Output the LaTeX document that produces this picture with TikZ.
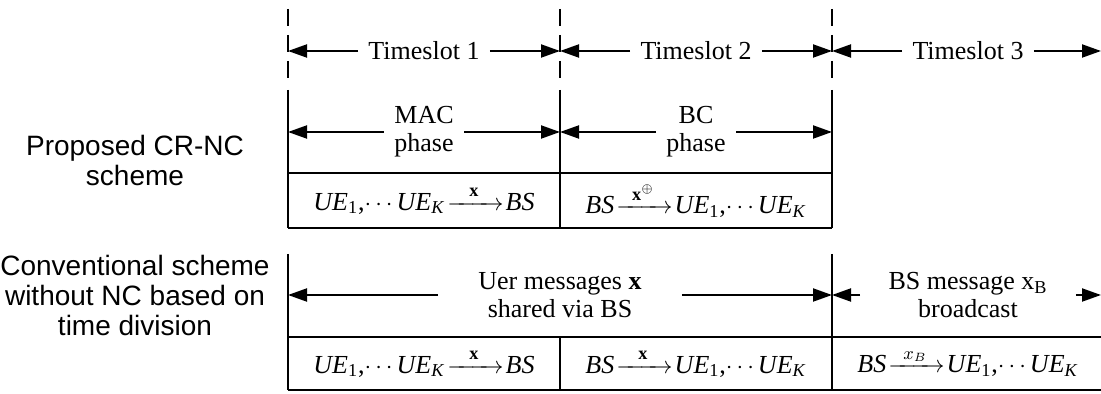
\documentclass[tikz,border=0pt]{standalone}
\usepackage{fontspec}
\usepackage{amsmath}
\setmainfont{Liberation Serif}
\newfontfamily\lblfont{Liberation Sans}
\usetikzlibrary{arrows.meta}
\newcommand{\myues}{\textit{UE}\textsubscript{1},$\cdots$\textit{UE}\textsubscript{\textit{K}}}
\newcommand{\mybs}{\textit{BS}}
\newcommand{\myarr}[1]{\kern1pt$\xrightarrow{\makebox[21pt]{$\scriptstyle #1$}}$\kern1pt}
\begin{document}
\begin{tikzpicture}[x=0.5pt,y=-0.5pt,
  frame/.style={line width=1pt},
  dashline/.style={line width=1pt, dash pattern=on 8.5pt off 4.5pt},
  dimarrow/.style={line width=1pt,-{Triangle[length=9.5pt,width=6.5pt]}},
  txt/.style={font=\fontsize{13}{14}\selectfont, align=center, inner ysep=0pt},
  lbl/.style={font=\lblfont\fontsize{14}{15}\selectfont, align=center},
  ]
\useasboundingbox (0,0) rectangle (1101,394);
% vertical guide lines (top)
\foreach \x/\n in {288/a,560/b,832/c} {
  \coordinate (d\n1) at (\x,9);
  \coordinate (d\n2) at (\x,82);
  \coordinate (s\n1) at (\x,90);
  \coordinate (s\n2) at (\x,228);
  \draw[dashline] (d\n1) -- (d\n2);
  \draw[frame] (s\n1) -- (s\n2);
}
\draw[frame] (288,173) -- (832,173);
\draw[frame] (288,228) -- (832,228);
% lower frame
\coordinate (la1) at (288,254);
\coordinate (la2) at (288,390);
\coordinate (lc1) at (832,254);
\coordinate (lc2) at (832,390);
\coordinate (lb1) at (560,337);
\coordinate (lb2) at (560,390);
\draw[frame] (la1) -- (la2);
\draw[frame] (lc1) -- (lc2);
\draw[frame] (lb1) -- (lb2);
\draw[frame] (288,337) -- (1101,337);
\draw[frame] (288,390) -- (1101,390);

% arrow end coordinates
\coordinate (ta) at (288,51);
\coordinate (tb) at (560,51);
\coordinate (tc) at (832,51);
\coordinate (td) at (1101,51);
\coordinate (pa) at (288,132);
\coordinate (pb) at (560,132);
\coordinate (pc) at (832,132);
\coordinate (qa) at (288,295);
\coordinate (qc) at (832,295);
\coordinate (qd) at (1101,295);

% timeslots
\node[txt, inner xsep=5pt] (ts1) at (424,51) {Timeslot 1};
\node[txt, inner xsep=5pt] (ts2) at (696,51) {Timeslot 2};
\node[txt, inner xsep=5pt] (ts3) at (968,51) {Timeslot 3};
\draw[dimarrow] (ts1.west) -- (ta);
\draw[dimarrow] (ts1.east) -- (tb);
\draw[dimarrow] (ts2.west) -- (tb);
\draw[dimarrow] (ts2.east) -- (tc);
\draw[dimarrow] (ts3.west) -- (tc);
\draw[dimarrow] (ts3.east) -- (td);

% phases
\node[txt, inner xsep=5pt] (mac) at (424,132) {MAC\\phase};
\node[txt, inner xsep=5pt] (bc) at (696,132) {BC\\phase};
\draw[dimarrow] (mac.west) -- (pa);
\draw[dimarrow] (mac.east) -- (pb);
\draw[dimarrow] (bc.west) -- (pb);
\draw[dimarrow] (bc.east) -- (pc);

% lower arrows
\node[txt, inner xsep=20pt] (um) at (560,295) {Uer messages \textbf{x}\\shared via BS};
\node[txt, inner xsep=14pt] (bm) at (968,295) {BS message x\textsubscript{B}\\broadcast};
\draw[dimarrow] (um.west) -- (qa);
\draw[dimarrow] (um.east) -- (qc);
\draw[dimarrow] (bm.west) -- (qc);
\draw[dimarrow] (bm.east) -- (qd);

% formula rows
\node[txt] (f1) at (424,200) {\myues\myarr{\mathbf{x}}\mybs};
\node[txt] (f2) at (696,200) {\mybs\myarr{\mathbf{x}^{\oplus}}\myues};
\node[txt] (g1) at (424,363) {\myues\myarr{\mathbf{x}}\mybs};
\node[txt] (g2) at (696,363) {\mybs\myarr{\mathbf{x}}\myues};
\node[txt] (g3) at (968,363) {\mybs\myarr{x_B}\myues};

% left labels
\node[lbl] (p1) at (135,160) {Proposed CR-NC\\scheme};
\node[lbl] (p2) at (135,295) {Conventional scheme\\without NC based on\\time division};
\end{tikzpicture}
\end{document}
